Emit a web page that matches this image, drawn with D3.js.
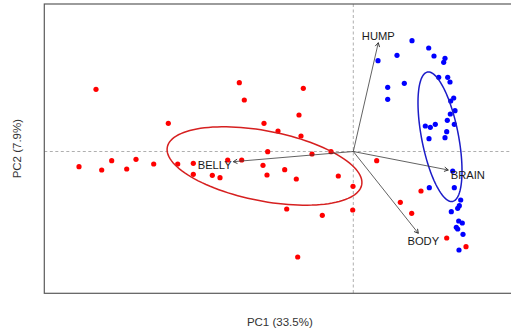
<!DOCTYPE html>
<html>
<head>
<meta charset="utf-8">
<script src="https://cdn.jsdelivr.net/npm/d3@7"></script>
<style>
    html, body { margin: 0; padding: 0; background: #fff; }
    text { font-family: "Liberation Sans", Arial, sans-serif; }
</style>
</head>
<body>
<div id="chart"></div>
<script>
// PC scores of group 1 (red)
const redPC1 = [-2.573, -1.850, -2.743, -2.516, -2.416, -2.266, -2.173, -1.996, -1.756, -1.140,
    -1.090, -0.893, -0.753, -0.856, -1.600, -1.256, -1.116, -0.903, -0.686, -1.600,
    -1.410, -1.333, -0.863, -0.413, -0.223, -0.570, -0.150, -0.003, -0.666, -0.310,
    -0.006, -0.556, -0.500, -0.543, -0.523, 0.234, 0.677, 0.470, 0.584, 0.934, 1.127];
const redPC2 = [0.622, 0.282, -0.152, -0.185, -0.092, -0.175, -0.078, -0.125, -0.125, 0.688,
    0.515, 0.282, 0.205, -0.002, -0.118, -0.085, -0.085, -0.138, -0.182, -0.228,
    -0.238, -0.262, -0.235, -0.025, -0.002, -0.275, -0.245, -0.348, -0.575, -0.638,
    -0.585, -1.055, 0.632, 0.365, 0.155, -0.092, -0.395, -0.508, -0.618, -0.865, -0.952];

// PC scores of group 2 (blue)
const bluePC1 = [0.587, 0.754, 0.437, 0.807, 0.917, 0.904, 0.247, 0.854, 0.944, 0.967,
    0.510, 0.344, 0.344, 1.004, 0.974, 1.017, 0.970, 0.940, 1.010, 0.720,
    0.770, 0.820, 0.934, 0.757, 0.917, 0.994, 0.760, 1.010, 1.074, 1.060,
    1.044, 0.980, 1.054, 1.090, 1.030, 1.044, 1.097, 1.057];
const bluePC2 = [1.108, 1.035, 0.962, 0.955, 0.932, 0.892, 0.908, 0.742, 0.742, 0.695,
    0.682, 0.642, 0.522, 0.535, 0.505, 0.408, 0.375, 0.312, 0.272, 0.255,
    0.242, 0.272, 0.198, 0.128, 0.138, -0.195, -0.362, -0.362, -0.485, -0.542,
    -0.568, -0.602, -0.695, -0.715, -0.758, -0.775, -0.828, -0.985];

// variable loadings (arrow tips)
const varNames = ['HUMP', 'BRAIN', 'BODY', 'BELLY'];
const varPC1 = [0.250, 0.950, 0.650, -1.200];
const varPC2 = [1.088, -0.185, -0.818, -0.102];

// group ellipses: centre, semi axes, rotation (degrees)
const ellCenter = [[-0.888, -0.145], [0.867, 0.1475]];
const ellAxes = [[0.99, 0.35], [0.659, 0.184]];
const ellAngle = [-11, -79];

const axisTitles = ['PC1 (33.5%)', 'PC2 (7.9%)'];

const config = {
    width: 511,
    height: 328,
    plot: { left: 44.3, right: 515.3, top: 4, bottom: 293.3 },
    red: '#ff0000',
    blue: '#0000ff',
    redLine: '#d62020',
    blueLine: '#1c1cc8'
};

const svg = d3.select('#chart').append('svg')
    .attr('width', config.width)
    .attr('height', config.height);

const xScale = d3.scaleLinear()
    .domain([-3.09, 1.62])
    .range([config.plot.left, config.plot.right]);
const yScale = d3.scaleLinear()
    .domain([-1.418, 1.475])
    .range([config.plot.bottom, config.plot.top]);

// dashed zero lines
svg.append('line')
    .attr('x1', xScale(0)).attr('x2', xScale(0))
    .attr('y1', config.plot.top).attr('y2', config.plot.bottom)
    .attr('stroke', '#9a9a9a').attr('stroke-width', 0.8)
    .attr('stroke-dasharray', '3,2.5');
svg.append('line')
    .attr('x1', config.plot.left).attr('x2', config.plot.right)
    .attr('y1', yScale(0)).attr('y2', yScale(0))
    .attr('stroke', '#9a9a9a').attr('stroke-width', 0.8)
    .attr('stroke-dasharray', '3,2.5');

// points
const redData = redPC1.map((d, i) => ({ x: d, y: redPC2[i] }));
const blueData = bluePC1.map((d, i) => ({ x: d, y: bluePC2[i] }));

function drawPoints(data, color) {
    svg.append('g').selectAll('circle')
        .data(data)
        .enter()
        .append('circle')
        .attr('cx', d => xScale(d.x))
        .attr('cy', d => yScale(d.y))
        .attr('r', 2.6)
        .attr('fill', color);
}
drawPoints(redData, config.red);
drawPoints(blueData, config.blue);

// ellipses
function ellipsePoints(c, ax, angle) {
    const t = angle * Math.PI / 180;
    return d3.range(0, 361, 3).map(deg => {
        const a = deg * Math.PI / 180;
        const ex = ax[0] * Math.cos(a);
        const ey = ax[1] * Math.sin(a);
        return [c[0] + ex * Math.cos(t) - ey * Math.sin(t),
                c[1] + ex * Math.sin(t) + ey * Math.cos(t)];
    });
}
const ellLine = d3.line()
    .x(d => xScale(d[0]))
    .y(d => yScale(d[1]))
    .curve(d3.curveLinearClosed);

[config.redLine, config.blueLine].forEach((col, i) => {
    svg.append('path')
        .attr('d', ellLine(ellipsePoints(ellCenter[i], ellAxes[i], ellAngle[i])))
        .attr('fill', 'none')
        .attr('stroke', col)
        .attr('stroke-width', 1.5);
});

// arrows
svg.append('defs').append('marker')
    .attr('id', 'head')
    .attr('viewBox', '-5 -4 6 8')
    .attr('refX', 0).attr('refY', 0)
    .attr('markerWidth', 6).attr('markerHeight', 8)
    .attr('markerUnits', 'userSpaceOnUse')
    .attr('orient', 'auto')
    .append('path')
    .attr('d', 'M-4,-2.2L0,0L-4,2.2')
    .attr('fill', 'none')
    .attr('stroke', '#333')
    .attr('stroke-width', 0.9);

const varData = varNames.map((n, i) => ({ name: n, x: varPC1[i], y: varPC2[i] }));

svg.append('g').selectAll('line')
    .data(varData)
    .enter()
    .append('line')
    .attr('x1', xScale(0)).attr('y1', yScale(0))
    .attr('x2', d => xScale(d.x))
    .attr('y2', d => yScale(d.y))
    .attr('stroke', '#3a3a3a')
    .attr('stroke-width', 0.8)
    .attr('marker-end', 'url(#head)');

// label offsets from arrow tip, pixels
const labelOffset = {
    HUMP: { dx: 0, dy: -3, anchor: 'middle' },
    BRAIN: { dx: 2.4, dy: 9.3, anchor: 'start' },
    BODY: { dx: 5, dy: 11.7, anchor: 'middle' },
    BELLY: { dx: -1.6, dy: 7.6, anchor: 'end' }
};

svg.append('g').selectAll('text')
    .data(varData)
    .enter()
    .append('text')
    .attr('x', d => xScale(d.x) + labelOffset[d.name].dx)
    .attr('y', d => yScale(d.y) + labelOffset[d.name].dy)
    .attr('text-anchor', d => labelOffset[d.name].anchor)
    .attr('font-size', '11.2px')
    .attr('fill', '#1a1a1a')
    .text(d => d.name);

// frame
svg.append('rect')
    .attr('x', config.plot.left).attr('y', config.plot.top)
    .attr('width', config.plot.right - config.plot.left)
    .attr('height', config.plot.bottom - config.plot.top)
    .attr('fill', 'none')
    .attr('stroke', '#5a5a5a')
    .attr('stroke-width', 1.2);

// axis titles
svg.append('text')
    .attr('x', (config.plot.left + config.plot.right) / 2)
    .attr('y', 326)
    .attr('text-anchor', 'middle')
    .attr('font-size', '11.5px')
    .attr('fill', '#333')
    .text(axisTitles[0]);

svg.append('text')
    .attr('transform', 'translate(21,' + (config.plot.top + config.plot.bottom) / 2 + ') rotate(-90)')
    .attr('text-anchor', 'middle')
    .attr('font-size', '11.5px')
    .attr('fill', '#333')
    .text(axisTitles[1]);
</script>
</body>
</html>
